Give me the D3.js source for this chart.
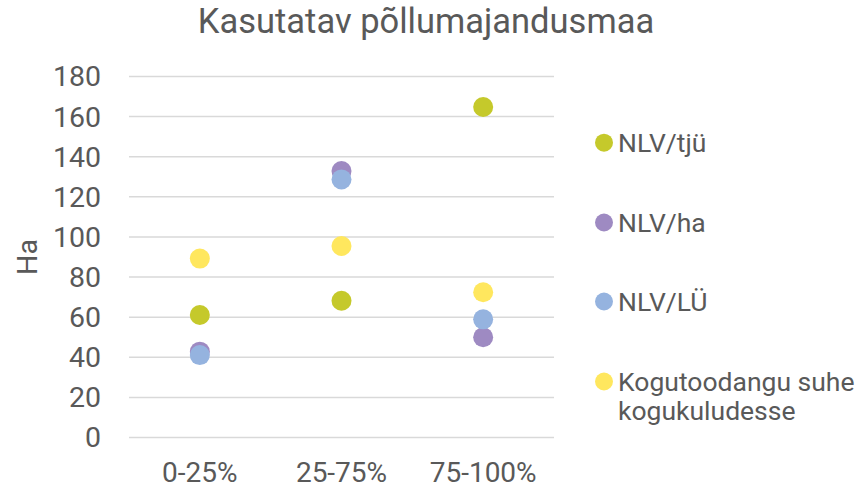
<!DOCTYPE html>
<html>
<head>
<meta charset="utf-8">
<script src="https://cdn.jsdelivr.net/npm/d3@7"></script>
<style>
  body { margin: 0; background: #fff; }
  svg { display: block; font-family: Roboto, "Noto Sans", sans-serif; }
</style>
</head>
<body>
<svg width="861" height="490"></svg>
<script>
const categories = ["0-25%", "25-75%", "75-100%"];
const seriesNames = ["NLV/tjü", "NLV/ha", "NLV/LÜ", "Kogutoodangu suhe kogukuludesse"];
const nlvTju = [61.1, 68.2, 164.8];
const nlvHa = [42.8, 132.9, 50.0];
const nlvLu = [41.1, 128.7, 58.9];
const kogutoodang = [89.2, 95.5, 72.4];
const yTicks = [0, 20, 40, 60, 80, 100, 120, 140, 160, 180];

const colors = ["#c5c92b", "#9e8ac2", "#95b3df", "#ffe75e"];
const textColor = "#595959";

const series = [nlvTju, nlvHa, nlvLu, kogutoodang].map((values, i) => ({
  name: seriesNames[i],
  color: colors[i],
  points: values.map((v, j) => ({ cat: categories[j], value: v })),
}));

const svg = d3.select("svg");

const x = d3.scaleBand().domain(categories).range([129, 554]);
const y = d3.scaleLinear().domain([0, 180]).range([437.5, 76.5]);

// Title
svg.append("text")
  .attr("x", 426)
  .attr("y", 33)
  .attr("text-anchor", "middle")
  .attr("fill", textColor)
  .attr("font-size", "34.5px")
  .text("Kasutatav põllumajandusmaa");

// Gridlines
svg.append("g")
  .selectAll("line")
  .data(yTicks)
  .join("line")
  .attr("x1", x.range()[0])
  .attr("x2", x.range()[1])
  .attr("y1", (d) => y(d))
  .attr("y2", (d) => y(d))
  .attr("stroke", "#d9d9d9")
  .attr("stroke-width", 1.5);

// Y tick labels
svg.append("g")
  .selectAll("text")
  .data(yTicks)
  .join("text")
  .attr("x", 101)
  .attr("y", (d) => y(d))
  .attr("dy", "0.35em")
  .attr("text-anchor", "end")
  .attr("fill", textColor)
  .attr("font-size", "28.5px")
  .text((d) => d);

// Y axis title
svg.append("text")
  .attr("transform", "translate(37,257) rotate(-90)")
  .attr("text-anchor", "middle")
  .attr("fill", textColor)
  .attr("font-size", "28.5px")
  .text("Ha");

// X labels
svg.append("g")
  .selectAll("text")
  .data(categories)
  .join("text")
  .attr("x", (d) => x(d) + x.bandwidth() / 2)
  .attr("y", 482)
  .attr("text-anchor", "middle")
  .attr("fill", textColor)
  .attr("font-size", "28px")
  .text((d) => d);

// Points
svg.append("g")
  .selectAll("g")
  .data(series)
  .join("g")
  .attr("fill", (d) => d.color)
  .selectAll("circle")
  .data((d) => d.points)
  .join("circle")
  .attr("cx", (d) => x(d.cat) + x.bandwidth() / 2)
  .attr("cy", (d) => y(d.value))
  .attr("r", 10);

// Legend
const legendY = [142.7, 222.5, 301.5, 381.5];
const legend = svg.append("g")
  .selectAll("g")
  .data(series)
  .join("g")
  .attr("transform", (d, i) => `translate(604,${legendY[i]})`);

legend.append("circle")
  .attr("r", 9)
  .attr("fill", (d) => d.color);

legend.append("text")
  .attr("fill", textColor)
  .attr("font-size", "26.5px")
  .each(function (d) {
    const words = d.name === seriesNames[3] ? ["Kogutoodangu suhe", "kogukuludesse"] : [d.name];
    d3.select(this)
      .selectAll("tspan")
      .data(words)
      .join("tspan")
      .attr("x", 14)
      .attr("dy", (w, i) => (i === 0 ? "0.35em" : "1.1em"))
      .text((w) => w);
  });
</script>
</body>
</html>
